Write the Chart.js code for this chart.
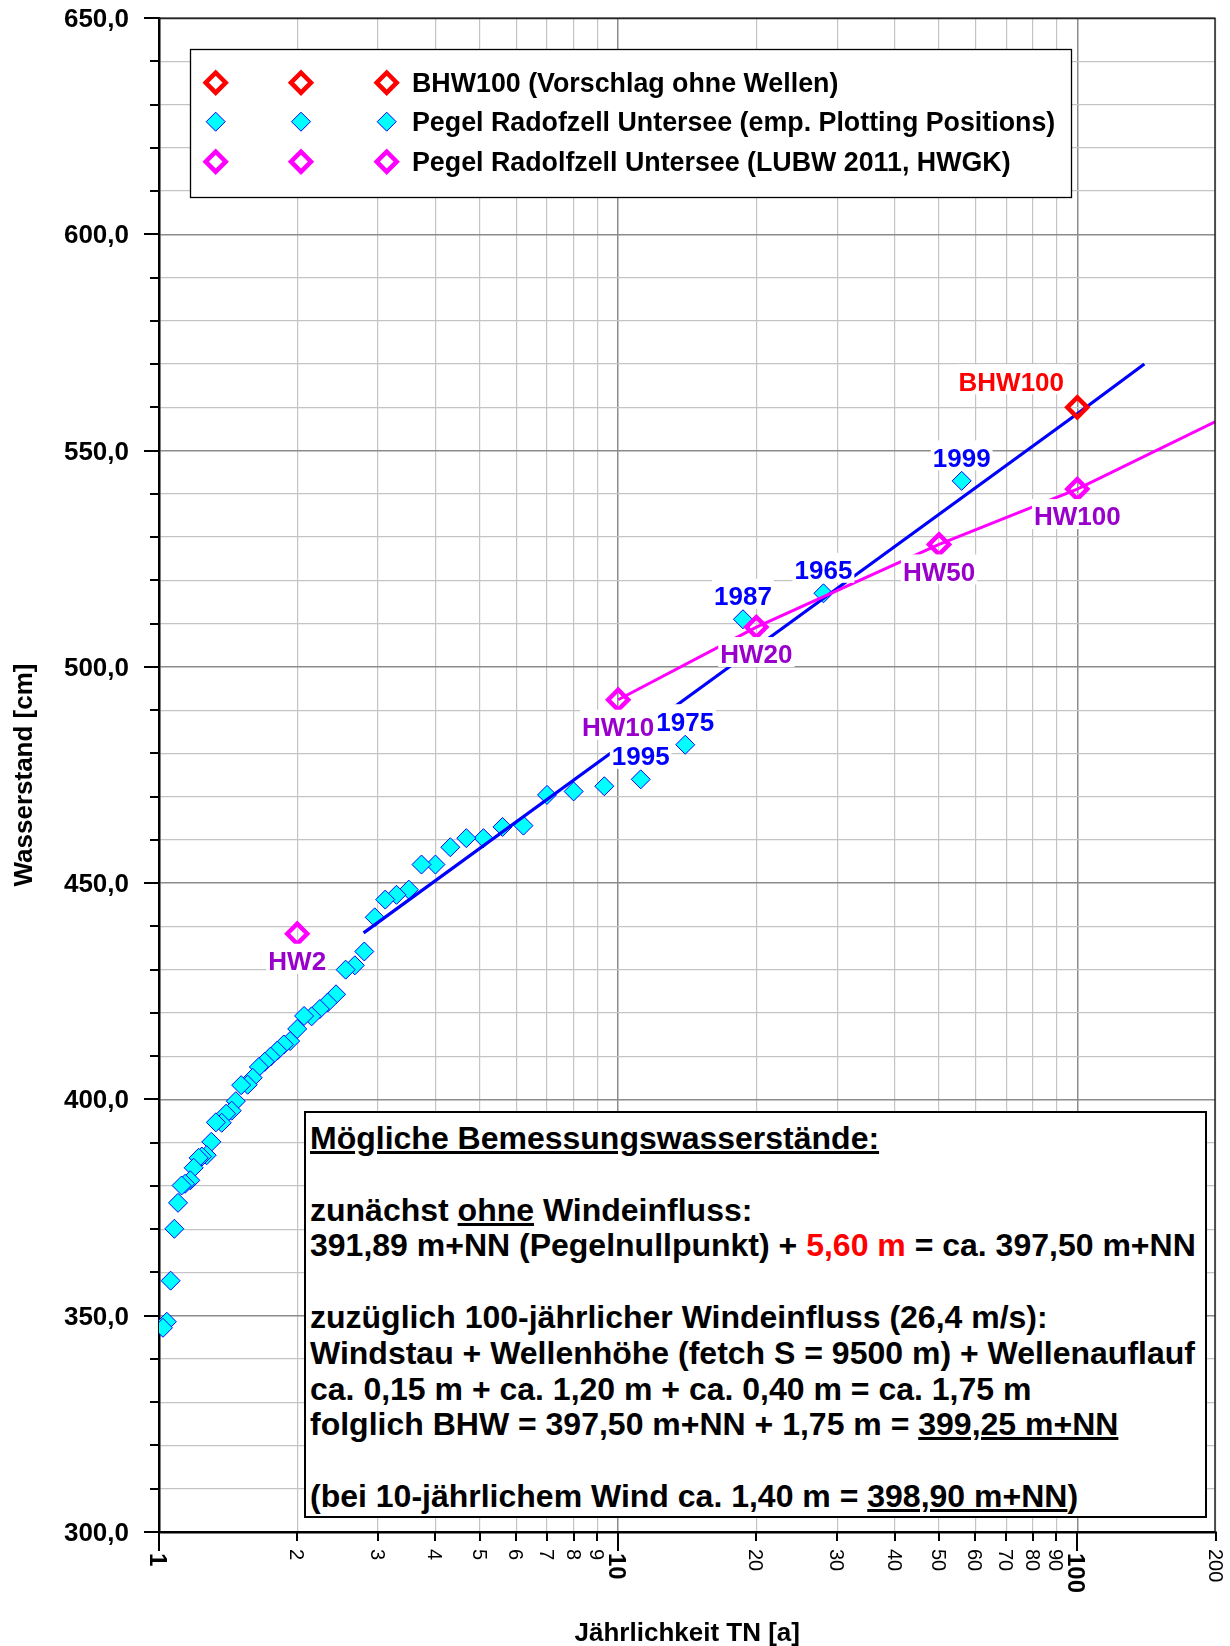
<!DOCTYPE html>
<html lang="de">
<head>
<meta charset="utf-8">
<title>Pegel Radolfzell Untersee – Jährlichkeit und Wasserstand</title>
<script src="https://cdn.jsdelivr.net/npm/chart.js@4.4.1/dist/chart.umd.min.js"></script>
<style>
  html, body { margin: 0; padding: 0; background: #fff; }
  #wrap { position: relative; width: 1230px; height: 1646px; }
  #chart { position: absolute; left: 0; top: 0; }
  #info {
    position: absolute; left: 304px; top: 1111px; width: 903px; height: 407px;
    box-sizing: border-box; border: 2px solid #000; background: #fff;
    padding: 8px 0 0 4px;
    font: bold 32px "Liberation Sans", Arial, sans-serif; color: #000;
  }
  #info .l { height: 35.8px; line-height: 35.8px; white-space: nowrap; }
  #info .u { text-decoration: underline; text-decoration-thickness: 3px; text-underline-offset: 2px; }
  #info .red { color: #ff0000; }
</style>
</head>
<body>
<div id="wrap">
  <canvas id="chart" width="1230" height="1646"></canvas>
  <div id="info">
    <div class="l"><span class="u">Mögliche Bemessungswasserstände:</span></div>
    <div class="l">&nbsp;</div>
    <div class="l">zunächst <span class="u">ohne</span> Windeinfluss:</div>
    <div class="l">391,89 m+NN (Pegelnullpunkt) + <span class="red">5,60 m</span> = ca. 397,50 m+NN</div>
    <div class="l">&nbsp;</div>
    <div class="l">zuzüglich 100-jährlicher Windeinfluss (26,4 m/s):</div>
    <div class="l">Windstau + Wellenhöhe (fetch S = 9500 m) + Wellenauflauf</div>
    <div class="l">ca. 0,15 m + ca. 1,20 m + ca. 0,40 m = ca. 1,75 m</div>
    <div class="l">folglich BHW = 397,50 m+NN + 1,75 m = <span class="u">399,25 m+NN</span></div>
    <div class="l">&nbsp;</div>
    <div class="l">(bei 10-jährlichem Wind ca. 1,40 m = <span class="u">398,90 m+NN</span>)</div>
  </div>
</div>
<script>
// ---- Data ---------------------------------------------------------------
// Empirical plotting positions: return period TN [a] and water level [cm]
const plotT = [56, 28, 18.7, 14, 11.2, 9.33, 8, 7, 6.22, 5.6,
               5.09, 4.67, 4.31, 4, 3.73, 3.5, 3.29, 3.11, 2.95, 2.8,
               2.67, 2.55, 2.43, 2.33, 2.24, 2.15, 2.07, 2, 1.93, 1.87,
               1.81, 1.75, 1.70, 1.65, 1.60, 1.56, 1.51, 1.47, 1.44, 1.40,
               1.37, 1.33, 1.30, 1.27, 1.24, 1.22, 1.19, 1.17, 1.14, 1.12,
               1.10, 1.08, 1.06, 1.04, 1.02];
const plotW = [543, 517, 511, 482, 474, 472.4, 471.2, 470.4, 463.3, 463,
               460.4, 460.4, 458.3, 454.3, 454.3, 448.5, 447.3, 446.2, 442.1, 434.2,
               431, 430, 424.3, 422.4, 420.9, 419.2, 419.3, 416.3, 413.5, 412.7,
               411.3, 409.9, 408.7, 407.5, 405, 403.4, 403.3, 399.6, 397.4, 396.7,
               394.6, 394.7, 390.2, 387.1, 386.8, 386.5, 384.2, 381.3, 380.5, 380.1,
               376.1, 370.1, 358.1, 348.6, 347.2];
// Years of the five highest events (first entries of plotT / plotW)
const plotYears = ['1999', '1965', '1987', '1975', '1995'];

// LUBW 2011 (HWGK) design levels
const hwT = [2, 10, 20, 50, 100];
const hwW = [438.3, 492.4, 509.2, 528.3, 541.1];
const hwNames = ['HW2', 'HW10', 'HW20', 'HW50', 'HW100'];

// HWGK curve from HW10 onwards
const hwLineT = [10, 20, 50, 100, 200];
const hwLineW = [492.4, 509.2, 528.3, 541.1, 556.7];

// Fitted curve through the plotting positions
const fitT = [2.79, 10, 100, 140];
const fitW = [438.5, 481.3, 558.5, 570];

// Proposed design level without waves
const bhwT = [100];
const bhwW = [560];
const bhwName = 'BHW100';

// Axes
const xTicks = [1, 2, 3, 4, 5, 6, 7, 8, 9, 10, 20, 30, 40, 50, 60, 70, 80, 90, 100, 200];
const xMajor = [1, 10, 100];
const yMin = 300, yMax = 650, yStep = 10, yLabelStep = 50;

const legendNames = [
  'BHW100 (Vorschlag ohne Wellen)',
  'Pegel Radofzell Untersee (emp. Plotting Positions)',
  'Pegel Radolfzell Untersee (LUBW 2011, HWGK)'
];
const xTitle = 'Jährlichkeit TN [a]';
const yTitle = 'Wasserstand [cm]';

// ---- Styles -------------------------------------------------------------
const FONT = '"Liberation Sans", Arial, sans-serif';
const CAP = 0.716;
const C_RED = '#ff0000', C_PINK = '#ff00ff', C_BLUE = '#0000ff', C_CYAN = '#00ffff', C_PURPLE = '#9900cc';
const R_HOLLOW = 10, W_HOLLOW = 4.5, R_FILLED = 9.5;

const pts = (xs, ys) => xs.map((x, i) => ({ x: x, y: ys[i] }));

function diamond(ctx, x, y, r, fill, stroke, lw) {
  ctx.beginPath();
  ctx.moveTo(x - r, y); ctx.lineTo(x, y - r); ctx.lineTo(x + r, y); ctx.lineTo(x, y + r);
  ctx.closePath();
  if (fill) { ctx.fillStyle = fill; ctx.fill(); }
  ctx.lineWidth = lw; ctx.strokeStyle = stroke; ctx.stroke();
}

function tag(ctx, text, cx, cy, color) {
  const size = 26;
  ctx.font = 'bold ' + size + 'px ' + FONT;
  const w = ctx.measureText(text).width;
  ctx.fillStyle = '#fff';
  ctx.fillRect(cx - w / 2 - 2, cy - 17, w + 4, 30);
  ctx.fillStyle = color;
  ctx.textAlign = 'center';
  ctx.textBaseline = 'alphabetic';
  ctx.fillText(text, cx, cy + size * CAP / 2);
}

// Point labels, legend box, frame, tick marks, tick labels and axis titles
const decorations = {
  id: 'decorations',
  afterDatasetsDraw(chart) {
    const ctx = chart.ctx, xs = chart.scales.x, ys = chart.scales.y;
    ctx.save();
    // year labels above the highest events
    plotYears.forEach((yr, i) => {
      tag(ctx, yr, xs.getPixelForValue(plotT[i]), ys.getPixelForValue(plotW[i]) - 23.5, C_BLUE);
    });
    // HWGK labels below their markers
    hwNames.forEach((n, i) => {
      tag(ctx, n, xs.getPixelForValue(hwT[i]), ys.getPixelForValue(hwW[i]) + 27, C_PURPLE);
    });
    tag(ctx, bhwName, xs.getPixelForValue(bhwT[0]) - 66, ys.getPixelForValue(bhwW[0]) - 26, C_RED);

    // legend box
    ctx.fillStyle = '#fff';
    ctx.fillRect(190, 49, 881, 148);
    ctx.lineWidth = 1.3; ctx.strokeStyle = '#000';
    ctx.strokeRect(190.5, 49.5, 881, 148);
    const rows = [82.7, 121.7, 161.7];
    const cols = [215.7, 301, 386.7];
    rows.forEach((ry, r) => {
      cols.forEach(cx => {
        if (r === 0) diamond(ctx, cx, ry, R_HOLLOW, null, C_RED, W_HOLLOW);
        else if (r === 1) diamond(ctx, cx, ry, R_FILLED, C_CYAN, C_BLUE, 1);
        else diamond(ctx, cx, ry, R_HOLLOW, null, C_PINK, W_HOLLOW);
      });
      ctx.font = 'bold 26.8px ' + FONT;
      ctx.fillStyle = '#000';
      ctx.textAlign = 'left';
      ctx.textBaseline = 'alphabetic';
      ctx.fillText(legendNames[r], 412, ry + 26.8 * CAP / 2);
    });
    ctx.restore();
  },
  afterDraw(chart) {
    const ctx = chart.ctx, xs = chart.scales.x, ys = chart.scales.y, a = chart.chartArea;
    ctx.save();
    // frame top / right
    ctx.strokeStyle = '#222'; ctx.lineWidth = 1.5;
    ctx.beginPath();
    ctx.moveTo(a.left, a.top + 0.5); ctx.lineTo(a.right, a.top + 0.5);
    ctx.moveTo(a.right - 0.5, a.top); ctx.lineTo(a.right - 0.5, a.bottom);
    ctx.stroke();

    // y tick marks and labels
    ctx.strokeStyle = '#000'; ctx.lineWidth = 2;
    ctx.font = 'bold 26px ' + FONT;
    ctx.fillStyle = '#000';
    ctx.textAlign = 'right'; ctx.textBaseline = 'alphabetic';
    for (let v = yMin; v <= yMax; v += yStep) {
      const y = Math.round(ys.getPixelForValue(v));
      const major = v % yLabelStep === 0;
      ctx.beginPath();
      ctx.moveTo(a.left - (major ? 15 : 9), y); ctx.lineTo(a.left, y);
      ctx.stroke();
      if (major) ctx.fillText(v.toFixed(1).replace('.', ','), 129, y + 26 * CAP / 2);
    }

    // x tick marks and rotated labels
    xTicks.forEach(t => {
      const x = Math.round(xs.getPixelForValue(t));
      const major = xMajor.includes(t);
      ctx.beginPath();
      ctx.moveTo(x, a.bottom); ctx.lineTo(x, a.bottom + (major ? 19 : 9));
      ctx.stroke();
      const size = major ? 24 : 20;
      ctx.save();
      ctx.translate(x, major ? 1553 : 1549);
      ctx.rotate(Math.PI / 2);
      ctx.font = (major ? 'bold ' : '') + size + 'px ' + FONT;
      ctx.textAlign = 'left'; ctx.textBaseline = 'alphabetic';
      ctx.fillText(String(t), 0, size * CAP / 2);
      ctx.restore();
    });

    // axis titles
    ctx.font = 'bold 26px ' + FONT;
    ctx.textAlign = 'center'; ctx.textBaseline = 'alphabetic';
    ctx.fillText(xTitle, (a.left + a.right) / 2, 1641);
    ctx.save();
    ctx.translate(23, (a.top + a.bottom) / 2);
    ctx.rotate(-Math.PI / 2);
    ctx.fillText(yTitle, 0, 26 * CAP / 2);
    ctx.restore();
    ctx.restore();
  }
};

new Chart(document.getElementById('chart'), {
  type: 'scatter',
  data: {
    datasets: [
      { // proposed BHW100
        label: legendNames[0], data: pts(bhwT, bhwW), showLine: false,
        pointStyle: 'rectRot', pointRadius: R_HOLLOW, pointBorderWidth: W_HOLLOW,
        pointBorderColor: C_RED, pointBackgroundColor: 'rgba(0,0,0,0)'
      },
      { // HWGK markers
        label: legendNames[2], data: pts(hwT, hwW), showLine: false,
        pointStyle: 'rectRot', pointRadius: R_HOLLOW, pointBorderWidth: W_HOLLOW,
        pointBorderColor: C_PINK, pointBackgroundColor: 'rgba(0,0,0,0)'
      },
      { // HWGK curve
        label: 'HWGK', data: pts(hwLineT, hwLineW), showLine: true,
        borderColor: C_PINK, borderWidth: 3, pointRadius: 0, tension: 0
      },
      { // fitted curve
        label: 'Anpassung', data: pts(fitT, fitW), showLine: true,
        borderColor: C_BLUE, borderWidth: 3.2, pointRadius: 0, tension: 0
      },
      { // plotting positions
        label: legendNames[1], data: pts(plotT, plotW), showLine: false,
        pointStyle: 'rectRot', pointRadius: R_FILLED, pointBorderWidth: 1,
        pointBorderColor: C_BLUE, pointBackgroundColor: C_CYAN
      }
    ]
  },
  options: {
    responsive: false,
    animation: false,
    devicePixelRatio: 1,
    layout: { padding: { left: 159, right: 12, top: 18, bottom: 114 } },
    plugins: { legend: { display: false }, tooltip: { enabled: false } },
    scales: {
      x: {
        type: 'logarithmic', min: 1, max: 200,
        afterBuildTicks: s => { s.ticks = xTicks.map(v => ({ value: v })); },
        ticks: { display: false },
        grid: {
          drawTicks: false,
          color: c => xMajor.includes(c.tick && c.tick.value) ? '#8c8c8c' : '#c4c4c4',
          lineWidth: c => xMajor.includes(c.tick && c.tick.value) ? 1.5 : 1.2
        },
        border: { display: true, color: '#000', width: 2.5 }
      },
      y: {
        type: 'linear', min: yMin, max: yMax,
        ticks: { display: false, stepSize: yStep },
        grid: {
          drawTicks: false,
          color: c => (c.tick && c.tick.value % yLabelStep === 0) ? '#8c8c8c' : '#c4c4c4',
          lineWidth: c => (c.tick && c.tick.value % yLabelStep === 0) ? 1.5 : 1.2
        },
        border: { display: true, color: '#000', width: 2.5 }
      }
    }
  },
  plugins: [decorations]
});
</script>
</body>
</html>
